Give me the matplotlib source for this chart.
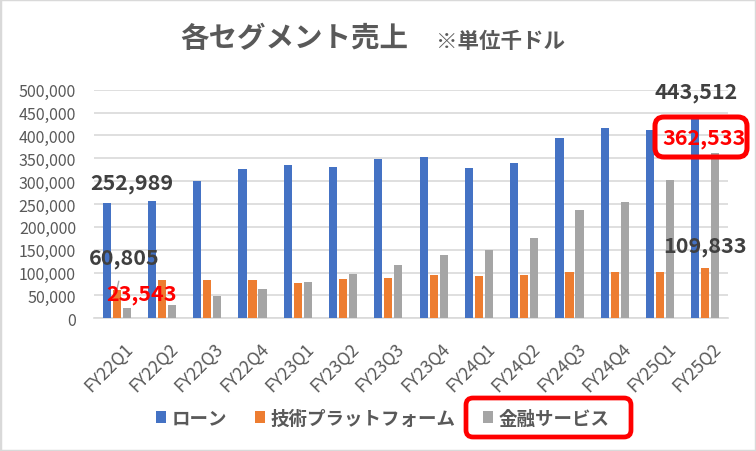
import numpy as np
import matplotlib
matplotlib.use("Agg")
import matplotlib.pyplot as plt
import matplotlib.transforms as mtransforms
from matplotlib.patches import FancyBboxPatch, Rectangle
from matplotlib.ticker import FuncFormatter

plt.rcParams['font.family'] = ['Noto Sans CJK JP', 'DejaVu Sans']

# ---------------- data ----------------
quarters = ["FY22Q1", "FY22Q2", "FY22Q3", "FY22Q4", "FY23Q1", "FY23Q2", "FY23Q3",
            "FY23Q4", "FY24Q1", "FY24Q2", "FY24Q3", "FY24Q4", "FY25Q1", "FY25Q2"]
loan = [252989, 257000, 300300, 326500, 335300, 330900, 348400,
        352800, 328700, 339700, 394300, 416200, 411800, 443512]
platform = [60805, 83800, 83800, 83800, 77300, 86000, 88200,
            94800, 92600, 94800, 101300, 101300, 101300, 109833]
finance = [23543, 29200, 48800, 64100, 79500, 96900, 116600,
           138500, 149400, 175700, 236900, 254400, 302500, 362533]
series_names = ["ローン", "技術プラットフォーム", "金融サービス"]
y_ticks = [0, 50000, 100000, 150000, 200000, 250000, 300000, 350000, 400000, 450000, 500000]

BLUE = "#4472C4"
ORANGE = "#ED7D31"
GRAY = "#A5A5A5"
TXT = "#595959"
LBL = "#404040"
RED = "#FF0000"

W, H = 756, 452
fig = plt.figure(figsize=(W / 100, H / 100), dpi=100)
ax = fig.add_axes([94 / W, 1 - 319.3 / H, (728 - 94) / W, (319.3 - 90.7) / H])

x = np.arange(len(quarters))
bw = 0.18
step = 0.22
b1 = ax.bar(x - step, loan, bw, color=BLUE, label=series_names[0], zorder=3)
b2 = ax.bar(x, platform, bw, color=ORANGE, label=series_names[1], zorder=3)
b3 = ax.bar(x + step, finance, bw, color=GRAY, label=series_names[2], zorder=3)

ax.set_xlim(-0.5, len(quarters) - 0.5)
ax.set_ylim(0, 500000)
ax.set_yticks(y_ticks)
ax.yaxis.set_major_formatter(FuncFormatter(lambda v, p: f"{int(v):,}"))
ax.grid(axis='y', color="#D9D9D9", linewidth=1.2, zorder=0)
for s in ["top", "right", "left"]:
    ax.spines[s].set_visible(False)
ax.spines["bottom"].set_color("#D9D9D9")
ax.spines["bottom"].set_linewidth(1.2)
ax.tick_params(axis='both', length=0, colors=TXT)
ax.tick_params(axis='y', labelsize=11.5, pad=13)
ax.set_xticks(x)
ax.set_xticklabels(quarters, rotation=45, ha='right', rotation_mode='anchor', fontsize=12.5)
ax.tick_params(axis='x', pad=15)
# excel puts the rotated labels a bit right of the tick
shift = mtransforms.ScaledTranslation(5 / 72, 0, fig.dpi_scale_trans)
for lab in ax.get_xticklabels():
    lab.set_transform(lab.get_transform() + shift)

# ---------------- title ----------------
fig.text(180 / W, 1 - 39 / H, "各セグメント売上", fontsize=20.5, fontweight='bold',
         color=TXT, va='center', ha='left')
fig.text(436 / W, 1 - 41 / H, "※単位千ドル", fontsize=15.5, fontweight='bold',
         color=TXT, va='center', ha='left')

# ---------------- data labels ----------------
first, last = 0, len(quarters) - 1
lab_kw = dict(fontsize=15.5, fontweight='bold', ha='center', va='center',
              annotation_clip=False, zorder=6)
ax.annotate(f"{loan[first]:,}", xy=(first - step, loan[first]), xytext=(0.34, 298000),
            color=LBL, **lab_kw)
ax.annotate(f"{platform[first]:,}", xy=(first, platform[first]), xytext=(0.17, 134000),
            color=LBL, arrowprops=dict(arrowstyle='-', color="#A6A6A6", lw=1,
                                       shrinkA=8, shrinkB=0), **lab_kw)
ax.annotate(f"{finance[first]:,}", xy=(first + step, finance[first]), xytext=(0.56, 55300),
            color=RED, **lab_kw)
ax.annotate(f"{loan[last]:,}", xy=(last - step, loan[last]), xytext=(12.79, 495000),
            color=LBL, **lab_kw)
ax.annotate(f"{finance[last]:,}", xy=(last + step, finance[last]), xytext=(12.98, 395000),
            color=RED, **lab_kw)
ax.annotate(f"{platform[last]:,}", xy=(last, platform[last]), xytext=(12.99, 160300),
            color=LBL, **lab_kw)

# ---------------- legend ----------------
leg = fig.legend(handles=[b1, b2, b3], loc='center', bbox_to_anchor=(383 / W, 1 - 419 / H),
                 ncol=3, frameon=False, fontsize=13.3, handlelength=0.55, handleheight=0.55,
                 handletextpad=0.3, columnspacing=1.5)
for t in leg.get_texts():
    t.set_color(TXT)
    t.set_fontweight('bold')

# red highlight boxes (pixel coords)
fig.patches.append(FancyBboxPatch((466, H - 438), 165, 39,
                                  boxstyle='round,pad=0,rounding_size=7',
                                  transform=None, fill=False, ec=RED, lw=3.4, zorder=10))
fig.patches.append(FancyBboxPatch((655, H - 158), 92, 40,
                                  boxstyle='round,pad=0,rounding_size=9',
                                  transform=None, fill=False, ec=RED, lw=3.6, zorder=10))

# outer border
fig.patches.append(Rectangle((0, 0), 1, 1, transform=fig.transFigure, fill=False,
                             ec="#D9D9D9", lw=2.5))

fig.savefig("out.png", dpi=100)
